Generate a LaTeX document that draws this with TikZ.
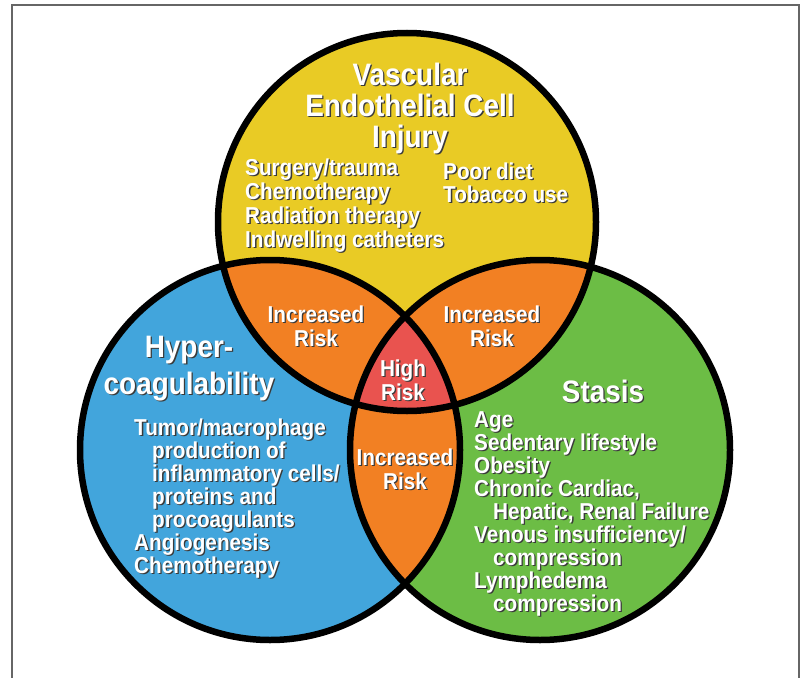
\documentclass[tikz,border=0pt]{standalone}
\usepackage{fontspec}
\setmainfont{Liberation Sans}[FakeStretch=0.9]
\definecolor{vyellow}{HTML}{E9CB25}
\definecolor{hblue}{HTML}{42A5DC}
\definecolor{sgreen}{HTML}{6CBD45}
\definecolor{rorange}{HTML}{F28023}
\definecolor{hred}{HTML}{E9534F}
\definecolor{framegray}{HTML}{666666}
\definecolor{shadowc}{HTML}{3A3A3A}
% white lettering with a small dark drop shadow
\newcommand\shd[1]{\leavevmode\rlap{\kern1.3pt\raisebox{-1.3pt}{\textcolor{shadowc}{#1}}}#1}
\tikzset{
  ring/.style={draw=black, line width=6.5pt},
  label/.style={text=white, inner sep=0pt, font=\bfseries},
  titletext/.style={label, align=center, font=\bfseries\fontsize{31}{31}\selectfont},
  listtext/.style={label, align=left, font=\bfseries\fontsize{23}{23}\selectfont},
  risktext/.style={label, align=center, font=\bfseries\fontsize{23}{24}\selectfont},
}
\begin{document}
\begin{tikzpicture}[x=1pt,y=-1pt]
\useasboundingbox (0,0) rectangle (800,677);
\fill[white] (0,0) rectangle (800,677);
\draw[framegray, line width=1.5pt] (12,690) -- (12,5) -- (799,5) -- (799,690);

% circle centres
\coordinate (cV) at (407,222);
\coordinate (cH) at (270,450);
\coordinate (cS) at (540,450);
\def\rV{189}
\def\rH{190}
\def\rS{190}

% base fills
\fill[vyellow] (cV) circle[radius=\rV];
\fill[hblue] (cH) circle[radius=\rH];
\fill[sgreen] (cS) circle[radius=\rS];

% pairwise overlaps
\begin{scope}
  \clip (cV) circle[radius=\rV];
  \fill[rorange] (cH) circle[radius=\rH];
  \fill[rorange] (cS) circle[radius=\rS];
\end{scope}
\begin{scope}
  \clip (cH) circle[radius=\rH];
  \fill[rorange] (cS) circle[radius=\rS];
\end{scope}
% triple overlap
\begin{scope}
  \clip (cV) circle[radius=\rV];
  \clip (cH) circle[radius=\rH];
  \fill[hred] (cS) circle[radius=\rS];
\end{scope}

% outlines
\draw[ring] (cV) circle[radius=\rV];
\draw[ring] (cH) circle[radius=\rH];
\draw[ring] (cS) circle[radius=\rS];

% titles (anchored at the baseline of the last line)
\node[titletext, anchor=base] (vtitle) at (410,147)
  {\shd{Vascular}\\\shd{Endothelial Cell}\\\shd{Injury}};
\node[titletext, anchor=base, font=\bfseries\fontsize{31}{37}\selectfont] (htitle) at (189,394)
  {\shd{Hyper-}\\\shd{coagulability}};
\node[titletext, anchor=base] (stitle) at (603,402) {\shd{Stasis}};

% risk factor lists
\node[listtext, anchor=base west, font=\bfseries\fontsize{23}{22.5}\selectfont] (vlistL) at (245,247)
  {\shd{Surgery/trauma}\\\shd{Chemotherapy}\\\shd{Radiation therapy}\\\shd{Indwelling catheters}};
\node[listtext, anchor=base west, font=\bfseries\fontsize{23}{22.5}\selectfont] (vlistR) at (443,202)
  {\shd{Poor diet}\\\shd{Tobacco use}};
\node[listtext, anchor=base west] (hlist) at (134,573)
  {\shd{Tumor/macrophage}\\
   \hspace*{18pt}\shd{production of}\\
   \hspace*{18pt}\shd{inflammatory cells/}\\
   \hspace*{18pt}\shd{proteins and}\\
   \hspace*{18pt}\shd{procoagulants}\\
   \shd{Angiogenesis}\\
   \shd{Chemotherapy}};
\node[listtext, anchor=base west] (slist) at (474,611)
  {\shd{Age}\\
   \shd{Sedentary lifestyle}\\
   \shd{Obesity}\\
   \shd{Chronic Cardiac,}\\
   \hspace*{19pt}\shd{Hepatic, Renal Failure}\\
   \shd{Venous insufficiency/}\\
   \hspace*{19pt}\shd{compression}\\
   \shd{Lymphedema}\\
   \hspace*{19pt}\shd{compression}};

% overlap labels
\node[risktext, anchor=base] (riskVH) at (316,346) {\shd{Increased}\\\shd{Risk}};
\node[risktext, anchor=base] (riskVS) at (492,346) {\shd{Increased}\\\shd{Risk}};
\node[risktext, anchor=base] (riskHS) at (405,489) {\shd{Increased}\\\shd{Risk}};
\node[risktext, anchor=base] (riskAll) at (403,400) {\shd{High}\\\shd{Risk}};
\end{tikzpicture}
\end{document}
